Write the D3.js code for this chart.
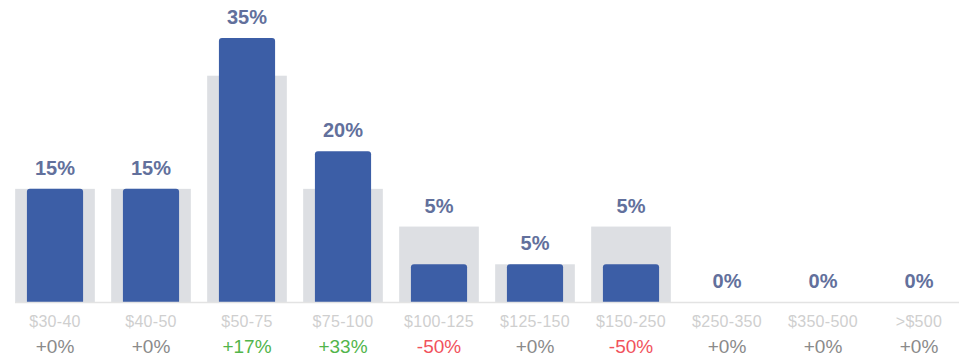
<!DOCTYPE html>
<html>
<head>
<meta charset="utf-8">
<script src="https://cdn.jsdelivr.net/npm/d3@7"></script>
<style>
  html, body { margin: 0; padding: 0; background: #ffffff; }
  svg { display: block; font-family: "Liberation Sans", Arial, Helvetica, sans-serif; }
</style>
</head>
<body>
<svg id="chart" width="959" height="357"></svg>
<script>
// Price buckets and the share of items falling in each
const categories = ["$30-40", "$40-50", "$50-75", "$75-100", "$100-125", "$125-150", "$150-250", "$250-350", "$350-500", ">$500"];
const shares     = [15, 15, 35, 20, 5, 5, 5, 0, 0, 0];   // current period (%)
const benchmark  = [15, 15, 30, 15, 10, 5, 10, 0, 0, 0]; // comparison period (%)

const colors = {
  bar: "#3c5ea6",
  ghost: "#dddfe3",
  value: "#62709c",
  category: "#cfcfcf",
  flat: "#8a8a8a",
  up: "#52b54b",
  down: "#f1525c",
  axis: "#e3e3e3"
};

const svg = d3.select("#chart");
const baseline = 302;

const x = d3.scaleBand().domain(categories).range([7, 967]);
const y = d3.scaleLinear().domain([0, 35]).range([baseline, 38]);

const step = x.bandwidth();
const ghostW = step * 0.83;
const barW = step * 0.585;
const cx = c => x(c) + step / 2;

const rows = categories.map((c, i) => ({
  cat: c,
  value: shares[i],
  base: benchmark[i],
  change: benchmark[i] === 0 ? 0 : Math.round((shares[i] - benchmark[i]) / benchmark[i] * 100)
}));

// comparison bars behind
svg.append("g").selectAll("rect")
  .data(rows.filter(d => d.base > 0))
  .join("rect")
  .attr("x", d => cx(d.cat) - ghostW / 2)
  .attr("y", d => y(d.base))
  .attr("width", ghostW)
  .attr("height", d => baseline - y(d.base))
  .attr("fill", colors.ghost);

// current bars with rounded top corners
const r = 3;
svg.append("g").selectAll("path")
  .data(rows.filter(d => d.value > 0))
  .join("path")
  .attr("d", d => {
    const x0 = cx(d.cat) - barW / 2, x1 = x0 + barW, t = y(d.value);
    return `M${x0},${baseline}V${t + r}Q${x0},${t} ${x0 + r},${t}H${x1 - r}Q${x1},${t} ${x1},${t + r}V${baseline}Z`;
  })
  .attr("fill", colors.bar);

// baseline
const axis = d3.axisBottom(x).tickSize(0).tickFormat("");
svg.append("g")
  .attr("transform", `translate(0,${baseline + 0.5})`)
  .call(axis)
  .call(g => g.select(".domain").attr("d", `M15,0H959`).attr("stroke", colors.axis).attr("stroke-width", 1.5));

// value labels above the taller of the two bars
svg.append("g").selectAll("text")
  .data(rows)
  .join("text")
  .attr("x", d => cx(d.cat))
  .attr("y", d => y(Math.max(d.value, d.base)) - 14)
  .attr("text-anchor", "middle")
  .attr("font-size", 20)
  .attr("font-weight", "bold")
  .attr("fill", colors.value)
  .text(d => d.value + "%");

// bucket labels
svg.append("g").selectAll("text")
  .data(rows)
  .join("text")
  .attr("x", d => cx(d.cat))
  .attr("y", 326.5)
  .attr("text-anchor", "middle")
  .attr("font-size", 16)
  .attr("letter-spacing", 0.3)
  .attr("fill", colors.category)
  .text(d => d.cat);

// change vs comparison period
svg.append("g").selectAll("text")
  .data(rows)
  .join("text")
  .attr("x", d => cx(d.cat))
  .attr("y", 352.5)
  .attr("text-anchor", "middle")
  .attr("font-size", 19)
  .attr("fill", d => d.change > 0 ? colors.up : d.change < 0 ? colors.down : colors.flat)
  .text(d => (d.change >= 0 ? "+" : "") + d.change + "%");
</script>
</body>
</html>
